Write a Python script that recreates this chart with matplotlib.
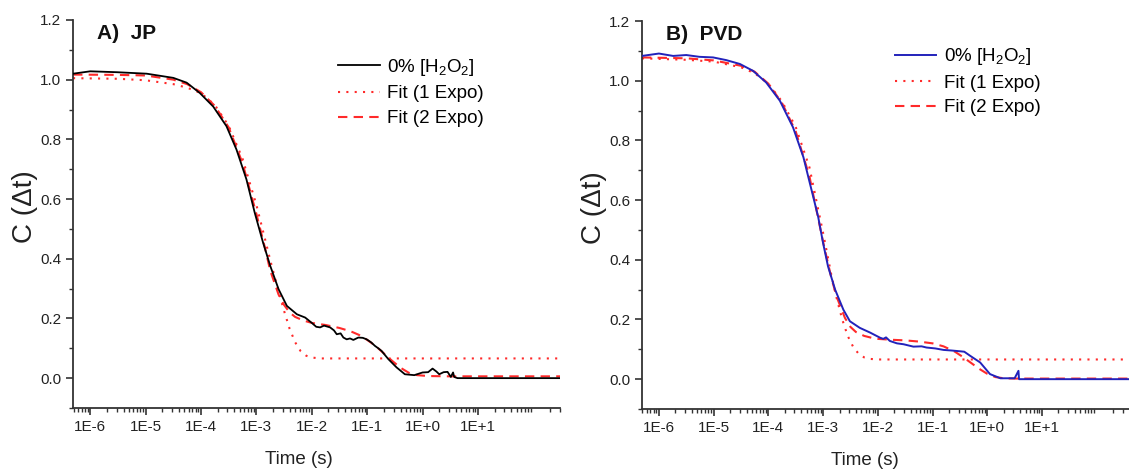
import numpy as np
import matplotlib
matplotlib.use('Agg')
import matplotlib.pyplot as plt
from matplotlib.ticker import LogLocator, FixedLocator, FuncFormatter, MultipleLocator, NullFormatter

plt.rcParams['font.family'] = ['Liberation Sans', 'DejaVu Sans']
plt.rcParams['mathtext.fontset'] = 'custom'
plt.rcParams['mathtext.rm'] = 'Liberation Sans'
plt.rcParams['mathtext.it'] = 'Liberation Sans:italic'
plt.rcParams['mathtext.bf'] = 'Liberation Sans:bold'

# ---- panel A: JP (log10 of time in s, correlation value) ----
jp_logt = [-6.31, -6.0, -5.52, -4.98, -4.5, -4.26, -4.02, -3.78, -3.54, -3.36,
           -3.18, -3.03, -2.88, -2.75, -2.6, -2.45, -2.27, -2.12, -2.0, -1.92,
           -1.85, -1.78, -1.67, -1.6, -1.55, -1.48, -1.43, -1.37, -1.31, -1.25,
           -1.16, -1.08, -1.01, -0.93, -0.86, -0.8, -0.74, -0.62, -0.47, -0.32,
           -0.15, 0.0, 0.1, 0.18, 0.25, 0.3, 0.38, 0.45, 0.51, 0.55,
           0.57, 0.63, 2.6]
jp_c = [1.02, 1.028, 1.025, 1.02, 1.006, 0.99, 0.955, 0.91, 0.844, 0.766,
        0.666, 0.554, 0.454, 0.376, 0.298, 0.242, 0.214, 0.203, 0.185, 0.172,
        0.17, 0.176, 0.17, 0.16, 0.147, 0.15, 0.136, 0.13, 0.133, 0.128,
        0.136, 0.135, 0.13, 0.12, 0.108, 0.1, 0.091, 0.064, 0.036, 0.013,
        0.01, 0.019, 0.02, 0.032, 0.022, 0.013, 0.02, 0.021, 0.004, 0.019,
        0.004, 0.0, 0.0]

jp_fit1_logt = [-6.31, -5.5, -5.0, -4.5, -4.25, -4.0, -3.75, -3.5, -3.25, -3.0,
                -2.85, -2.75, -2.6, -2.5, -2.4, -2.3, -2.2, -2.1, -2.0, -1.85, 2.6]
jp_fit1_c = [1.005, 1.003, 0.998, 0.985, 0.973, 0.955, 0.915, 0.845, 0.735, 0.58,
             0.47, 0.395, 0.29, 0.225, 0.165, 0.12, 0.09, 0.075, 0.069, 0.066, 0.066]

jp_fit2_logt = [-6.31, -5.5, -5.0, -4.5, -4.25, -4.0, -3.75, -3.5, -3.25, -3.0,
                -2.85, -2.75, -2.6, -2.5, -2.4, -2.3, -2.15, -2.0, -1.75, -1.5,
                -1.3, -1.15, -1.0, -0.85, -0.7, -0.55, -0.4, -0.25, -0.1, 0.1,
                0.5, 2.6]
jp_fit2_c = [1.017, 1.016, 1.014, 1.0, 0.985, 0.958, 0.912, 0.84, 0.72, 0.55,
             0.44, 0.36, 0.28, 0.245, 0.22, 0.205, 0.193, 0.185, 0.178, 0.168,
             0.157, 0.145, 0.128, 0.108, 0.083, 0.058, 0.035, 0.018, 0.01, 0.007,
             0.006, 0.006]

# ---- panel B: PVD ----
pvd_logt = [-6.31, -6.0, -5.74, -5.5, -5.26, -5.01, -4.77, -4.52, -4.28, -4.04,
            -3.79, -3.55, -3.36, -3.21, -3.09, -3.0, -2.91, -2.78, -2.63, -2.51,
            -2.33, -2.14, -1.96, -1.9, -1.85, -1.78, -1.65, -1.53, -1.35, -1.2,
            -1.11, -0.95, -0.8, -0.65, -0.53, -0.42, -0.31, -0.13, 0.05, 0.24,
            0.5, 0.57, 0.58, 2.6]
pvd_c = [1.083, 1.091, 1.083, 1.086, 1.08, 1.078, 1.069, 1.056, 1.033, 0.994,
         0.933, 0.844, 0.744, 0.633, 0.544, 0.456, 0.378, 0.3, 0.233, 0.194,
         0.172, 0.156, 0.139, 0.135, 0.14, 0.128, 0.12, 0.117, 0.109, 0.11,
         0.106, 0.103, 0.098, 0.096, 0.094, 0.092, 0.078, 0.056, 0.017, 0.003,
         0.003, 0.028, 0.0, 0.0]

pvd_fit1_logt = [-6.31, -5.5, -5.0, -4.5, -4.25, -4.0, -3.75, -3.5, -3.25, -3.0,
                 -2.85, -2.75, -2.65, -2.55, -2.45, -2.35, -2.25, -2.15, -2.0, 2.6]
pvd_fit1_c = [1.075, 1.07, 1.064, 1.045, 1.025, 0.99, 0.93, 0.845, 0.71, 0.49,
              0.35, 0.27, 0.2, 0.145, 0.108, 0.085, 0.073, 0.068, 0.066, 0.066]

pvd_fit2_logt = [-6.31, -5.5, -5.0, -4.5, -4.25, -4.0, -3.75, -3.5, -3.25, -3.0,
                 -2.85, -2.75, -2.6, -2.5, -2.4, -2.25, -2.1, -2.0, -1.75, -1.5,
                 -1.25, -1.0, -0.8, -0.6, -0.45, -0.3, -0.15, 0.0, 0.15, 0.3,
                 0.5, 2.6]
pvd_fit2_c = [1.078, 1.075, 1.068, 1.05, 1.03, 0.99, 0.925, 0.83, 0.68, 0.46,
              0.34, 0.275, 0.205, 0.175, 0.158, 0.145, 0.138, 0.135, 0.132, 0.13,
              0.126, 0.12, 0.11, 0.093, 0.075, 0.055, 0.035, 0.018, 0.007, 0.003,
              0.002, 0.002]

data_label = '0% [H$_2$O$_2$]'
fit1_label = 'Fit (1 Expo)'
fit2_label = 'Fit (2 Expo)'
decades = [-6, -5, -4, -3, -2, -1, 0, 1]


def style_axes(ax, title, xmax_log, xlab_x, ylab_x, leg_anchor):
    for s in ['top', 'right']:
        ax.spines[s].set_visible(False)
    for s in ['left', 'bottom']:
        ax.spines[s].set_linewidth(1.3)
        ax.spines[s].set_color('#333333')
    ax.set_xscale('log')
    ax.set_xlim(10 ** -6.31, 10 ** xmax_log)
    ax.set_ylim(-0.1, 1.2)
    ax.xaxis.set_major_locator(FixedLocator([10.0 ** d for d in decades]))
    ax.xaxis.set_major_formatter(FuncFormatter(lambda v, p: '1E%+d' % round(np.log10(v))))
    ax.xaxis.set_minor_locator(LogLocator(base=10, subs=range(2, 10), numticks=20))
    ax.xaxis.set_minor_formatter(NullFormatter())
    ax.yaxis.set_major_locator(MultipleLocator(0.2))
    ax.yaxis.set_minor_locator(MultipleLocator(0.1))
    ax.yaxis.set_major_formatter(FuncFormatter(lambda v, p: '%.1f' % v))
    ax.tick_params(which='major', direction='out', length=5, width=1.2,
                   labelsize=11, color='#333333', labelcolor='#222222')
    ax.tick_params(which='minor', direction='out', length=3, width=1.0, color='#333333')
    ax.set_xlabel('Time (s)', fontsize=13.5, color='#222222')
    ax.xaxis.set_label_coords(xlab_x, -0.11)
    ax.set_ylabel('C (Δt)', fontsize=20, color='#222222')
    ax.yaxis.set_label_coords(ylab_x, 0.52)
    ax.text(0.049, 0.99, title, transform=ax.transAxes, fontsize=15,
            fontweight='bold', va='top', ha='left', color='#111111')
    ax.legend(loc='upper left', bbox_to_anchor=leg_anchor, frameon=False,
              fontsize=13.5, handlelength=2.2, handletextpad=0.4,
              labelspacing=0.4, borderaxespad=0, borderpad=0)


fig = plt.figure(figsize=(11.29, 4.71), dpi=100)
ax1 = fig.add_axes([0.0647, 0.1338, 0.4313, 0.8238])
ax2 = fig.add_axes([0.5686, 0.1316, 0.4314, 0.8238])

red = '#ff2a2a'

ax1.plot(10.0 ** np.array(jp_logt), jp_c, color='black', lw=1.3, label=data_label, zorder=3)
ax1.plot(10.0 ** np.array(jp_fit1_logt), jp_fit1_c, color=red, lw=1.5, dashes=(1, 3), label=fit1_label)
ax1.plot(10.0 ** np.array(jp_fit2_logt), jp_fit2_c, color=red, lw=1.5, dashes=(4.5, 3), label=fit2_label)
style_axes(ax1, 'A)  JP', 2.48, 0.464, -0.072, (0.545, 0.905))

ax2.plot(10.0 ** np.array(pvd_logt), pvd_c, color='#2222bb', lw=1.4, label=data_label, zorder=3)
ax2.plot(10.0 ** np.array(pvd_fit1_logt), pvd_fit1_c, color=red, lw=1.5, dashes=(1, 3), label=fit1_label)
ax2.plot(10.0 ** np.array(pvd_fit2_logt), pvd_fit2_c, color=red, lw=1.5, dashes=(4.5, 3), label=fit2_label)
style_axes(ax2, 'B)  PVD', 2.59, 0.458, -0.072, (0.52, 0.935))

fig.savefig('out.png', dpi=100)
